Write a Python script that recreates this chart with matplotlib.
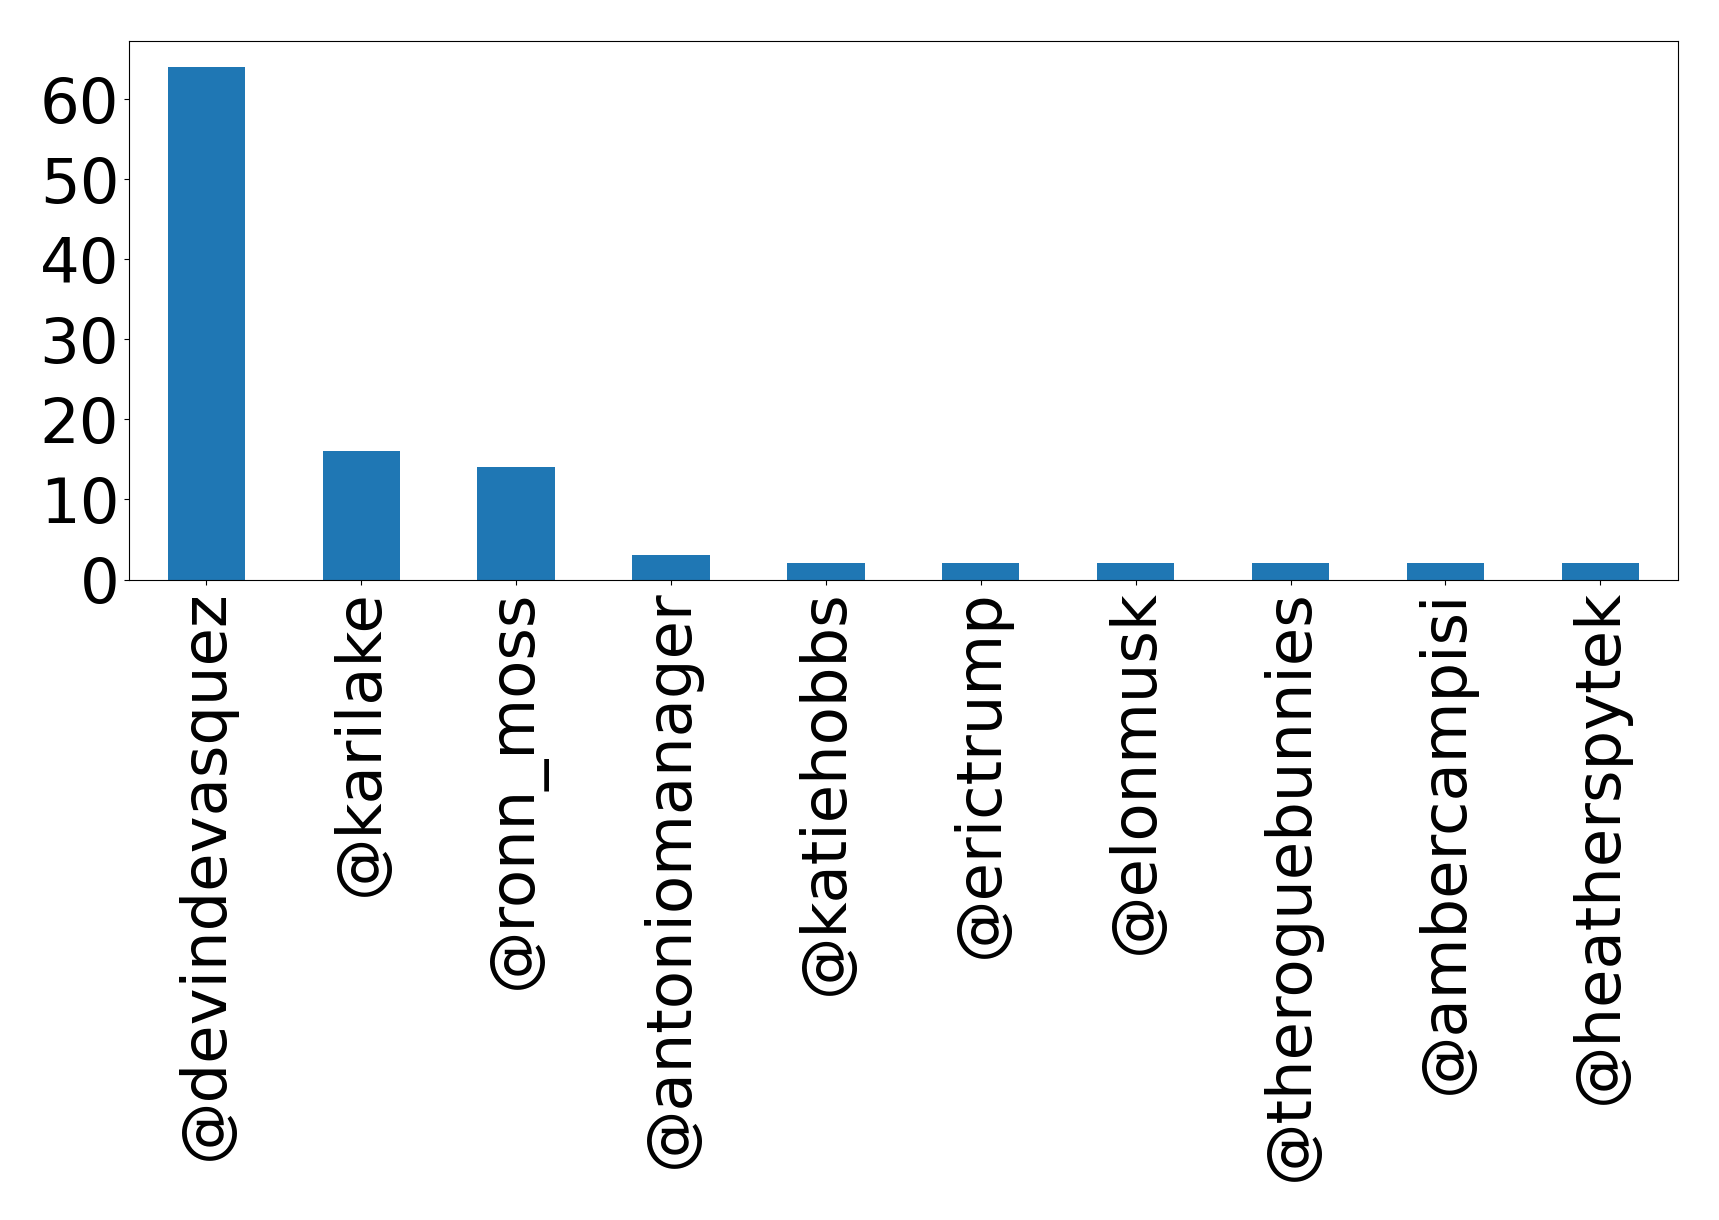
import matplotlib
matplotlib.use('Agg')
import matplotlib.pyplot as plt
import numpy as np

accounts = ['@devindevasquez', '@karilake', '@ronn_moss', '@antoniomanager',
            '@katiehobbs', '@erictrump', '@elonmusk', '@theroguebunnies',
            '@ambercampisi', '@heatherspytek']
counts = [64, 16, 14, 3, 2, 2, 2, 2, 2, 2]

fig, ax = plt.subplots(figsize=(17.19, 12.2), dpi=100)
x = np.arange(len(accounts))
ax.bar(x, counts, width=0.5, color='#1f77b4')
ax.set_xticks(x)
ax.set_xticklabels(accounts, rotation=90, fontsize=45)
ax.set_yticks(np.arange(0, 70, 10))
ax.tick_params(axis='y', labelsize=45)
ax.set_xlim(-0.5, len(accounts) - 0.5)
ax.set_ylim(0, 67.2)

plt.subplots_adjust(left=0.075, right=0.976, top=0.966, bottom=0.525)
plt.savefig('out.png', dpi=100)
